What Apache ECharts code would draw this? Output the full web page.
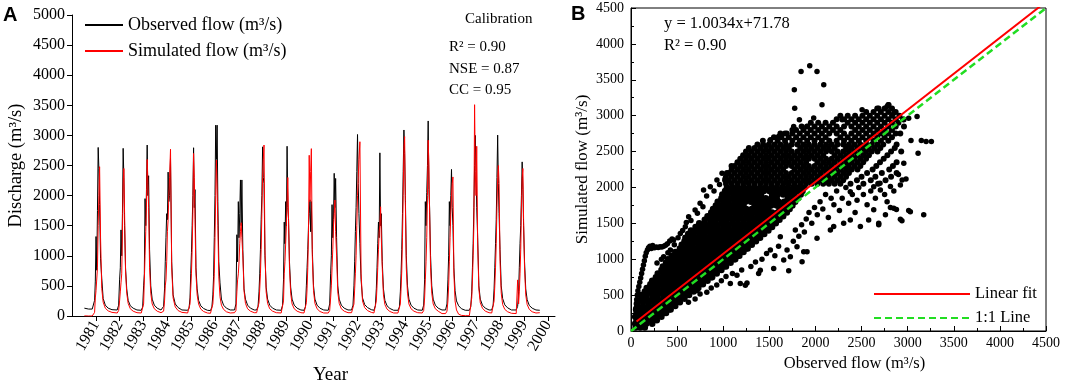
<!DOCTYPE html>
<html>
<head>
<meta charset="utf-8">
<script src="https://cdn.jsdelivr.net/npm/echarts@6/dist/echarts.min.js"></script>
<style>
  html, body { margin: 0; padding: 0; background: #fff; }
  #chart { width: 1065px; height: 386px; }
</style>
</head>
<body>
<div id="chart"></div>
<script>
// ---- panel A: daily discharge, read per flood season ----
var yearTicks = [1981, 1982, 1983, 1984, 1985, 1986, 1987, 1988, 1989, 1990,
                 1991, 1992, 1993, 1994, 1995, 1996, 1997, 1998, 1999, 2000];
// time of each season's observed peak (fractional year)
var peakTimes = [1981.10, 1982.15, 1983.16, 1984.04, 1985.11, 1986.07, 1987.08, 1988.01, 1989.04, 1990.00,
                 1991.02, 1992.00, 1992.94, 1993.95, 1994.97, 1995.95, 1996.95, 1997.89, 1998.92];
// sample positions relative to the peak (years)
var yearOffsets = [-0.25, -0.19, -0.15, -0.12, -0.09, -0.06, -0.03, 0, 0.03, 0.06, 0.1, 0.15, 0.21, 0.3, 0.42, 0.58];

var leadTimes = [1980.52, 1980.7];
var obsLead = [130, 115];
var simLead = [2, 0];
var tailTimes = [1999.66];
var obsTail = [95];
var simTail = [55];

var obsFlow = [
  [115, 120, 260, 580, 1320, 760, 1750, 2800, 2450, 1850, 950, 630, 290, 180, 130, 105],
  [100, 180, 600, 800, 1430, 1000, 1700, 2785, 2300, 1500, 800, 450, 260, 170, 130, 100],
  [95, 150, 500, 700, 1950, 1500, 2100, 2840, 2000, 2330, 1100, 500, 280, 180, 130, 100],
  [95, 160, 450, 900, 1300, 1700, 1600, 2390, 1900, 2000, 2620, 900, 350, 200, 140, 100],
  [95, 130, 300, 700, 1050, 1500, 2000, 2795, 1800, 2100, 800, 450, 260, 170, 125, 95],
  [90, 150, 350, 650, 1300, 2000, 3170, 2600, 3170, 1900, 900, 550, 280, 180, 130, 100],
  [100, 200, 1350, 900, 1900, 1300, 1700, 2260, 1500, 2260, 1100, 450, 280, 180, 130, 100],
  [100, 160, 400, 700, 1100, 1600, 2000, 2810, 2300, 2200, 1000, 480, 280, 180, 130, 100],
  [95, 180, 600, 1560, 1200, 1900, 1500, 2820, 1800, 1620, 900, 480, 280, 180, 130, 100],
  [95, 150, 500, 800, 1100, 1500, 1700, 1930, 1400, 1900, 1100, 500, 280, 180, 130, 100],
  [95, 200, 700, 1000, 1850, 1300, 1600, 2370, 1800, 2285, 1300, 500, 280, 180, 130, 100],
  [100, 180, 500, 900, 1400, 1800, 2400, 3015, 2200, 1700, 1200, 600, 300, 190, 140, 105],
  [95, 170, 450, 800, 1200, 1560, 1300, 2710, 1500, 1700, 900, 450, 260, 170, 125, 95],
  [95, 150, 400, 700, 1100, 1700, 2400, 3090, 2700, 2000, 1000, 500, 280, 180, 130, 100],
  [95, 180, 600, 1900, 1500, 2050, 2500, 3240, 2100, 1800, 1000, 500, 280, 180, 130, 100],
  [100, 200, 600, 1000, 1900, 1500, 2000, 2435, 1800, 1500, 800, 420, 250, 170, 120, 95],
  [95, 150, 400, 800, 1200, 1800, 2500, 3000, 2400, 1800, 1300, 500, 280, 180, 130, 100],
  [100, 180, 450, 800, 1200, 1600, 2300, 3005, 2200, 1700, 1100, 500, 290, 185, 135, 100],
  [100, 160, 400, 800, 1200, 1500, 2000, 2560, 2100, 1500, 900, 450, 270, 175, 130, 100]
];
var simFlow = [
  [0, 0, 60, 300, 420, 450, 800, 1500, 2000, 2480, 1300, 460, 230, 130, 85, 60],
  [50, 90, 250, 400, 550, 700, 1400, 2200, 2450, 1700, 750, 380, 210, 120, 80, 55],
  [50, 80, 200, 600, 1000, 1400, 1900, 2600, 2200, 1800, 800, 380, 200, 120, 80, 55],
  [50, 80, 250, 500, 600, 900, 1400, 1600, 2000, 2300, 2770, 800, 300, 150, 90, 60],
  [50, 70, 200, 450, 700, 1100, 1700, 2700, 2300, 1600, 700, 350, 200, 115, 75, 50],
  [45, 70, 200, 400, 700, 1300, 2000, 2590, 2100, 1500, 650, 320, 180, 110, 70, 50],
  [55, 90, 400, 600, 700, 900, 1200, 1400, 1550, 1300, 1000, 420, 210, 120, 80, 55],
  [55, 80, 220, 450, 700, 1100, 1700, 2300, 2600, 2840, 1100, 400, 210, 120, 80, 55],
  [50, 80, 250, 700, 900, 1200, 1500, 1900, 2300, 1600, 800, 380, 200, 120, 80, 55],
  [50, 80, 220, 450, 800, 1400, 2670, 1900, 2400, 2780, 1000, 420, 210, 120, 75, 50],
  [50, 90, 300, 500, 800, 1100, 1500, 1700, 1925, 1400, 1000, 400, 210, 120, 80, 55],
  [55, 80, 200, 450, 700, 1000, 1500, 2000, 2300, 2600, 2895, 700, 250, 140, 90, 60],
  [50, 80, 250, 500, 800, 1100, 1400, 1500, 1815, 1300, 800, 350, 190, 115, 75, 50],
  [50, 75, 200, 450, 750, 1300, 2000, 2800, 2980, 1900, 800, 380, 200, 120, 80, 55],
  [50, 90, 300, 600, 900, 1300, 2000, 2920, 2510, 1700, 800, 380, 200, 120, 80, 40],
  [40, 80, 250, 500, 900, 1300, 1700, 2000, 2200, 2310, 700, 250, 100, 30, 10, 5],
  [5, 20, 300, 600, 1000, 1500, 3510, 2400, 2000, 2820, 1200, 450, 220, 130, 80, 55],
  [50, 80, 250, 500, 800, 1200, 1800, 2300, 2500, 2200, 900, 380, 190, 110, 70, 45],
  [40, 600, 200, 400, 700, 1100, 1800, 2300, 2450, 1600, 800, 350, 190, 110, 70, 50]
];

// ---- panel B: observed vs simulated scatter ----
// dense part of the cloud, one row per simulated level: [sim, [observed...]]
var cloudRows = [
  [50, [50, 100, 150]],
  [100, [45, 105, 165, 230]],
  [150, [60, 120, 180, 240, 280]],
  [200, [45, 105, 165, 225, 285, 330]],
  [250, [60, 120, 180, 240, 300, 360, 380]],
  [300, [55, 115, 175, 235, 295, 355, 415, 430]],
  [350, [70, 130, 190, 250, 310, 370, 430, 480]],
  [400, [70, 130, 190, 250, 310, 370, 430, 490, 530]],
  [450, [110, 170, 230, 290, 350, 410, 470, 530, 580]],
  [500, [110, 170, 230, 290, 350, 410, 470, 530, 590, 630]],
  [550, [150, 210, 270, 330, 390, 450, 510, 570, 630, 680]],
  [600, [170, 230, 290, 350, 410, 470, 530, 590, 650, 710, 730]],
  [650, [210, 270, 330, 390, 450, 510, 570, 630, 690, 750, 780]],
  [700, [230, 290, 350, 410, 470, 530, 590, 650, 710, 770, 830]],
  [750, [270, 330, 390, 450, 510, 570, 630, 690, 750, 810, 870, 880]],
  [800, [290, 350, 410, 470, 530, 590, 650, 710, 770, 830, 890, 930]],
  [850, [330, 390, 450, 510, 570, 630, 690, 750, 810, 870, 930, 980]],
  [900, [345, 405, 465, 525, 585, 645, 705, 765, 825, 885, 945, 1005, 1030]],
  [950, [380, 440, 500, 560, 620, 680, 740, 800, 860, 920, 980, 1040, 1080]],
  [1000, [400, 460, 520, 580, 640, 700, 760, 820, 880, 940, 1000, 1060, 1120, 1130]],
  [1050, [440, 500, 560, 620, 680, 740, 800, 860, 920, 980, 1040, 1100, 1160, 1175]],
  [1100, [480, 540, 600, 660, 720, 780, 840, 900, 960, 1020, 1080, 1140, 1200, 1220]],
  [1150, [530, 590, 650, 710, 770, 830, 890, 950, 1010, 1070, 1130, 1190, 1250, 1265]],
  [1200, [550, 610, 670, 730, 790, 850, 910, 970, 1030, 1090, 1150, 1210, 1270, 1310]],
  [1250, [580, 640, 700, 760, 820, 880, 940, 1000, 1060, 1120, 1180, 1240, 1300, 1355]],
  [1300, [590, 650, 710, 770, 830, 890, 950, 1010, 1070, 1130, 1190, 1250, 1310, 1370, 1400]],
  [1350, [620, 680, 740, 800, 860, 920, 980, 1040, 1100, 1160, 1220, 1280, 1340, 1400, 1445]],
  [1400, [650, 710, 770, 830, 890, 950, 1010, 1070, 1130, 1190, 1250, 1310, 1370, 1430, 1490]],
  [1450, [700, 760, 820, 880, 940, 1000, 1060, 1120, 1180, 1240, 1300, 1360, 1420, 1480, 1530]],
  [1500, [740, 800, 860, 920, 980, 1040, 1100, 1160, 1220, 1280, 1340, 1400, 1460, 1520, 1570]],
  [1550, [800, 860, 920, 980, 1040, 1100, 1160, 1220, 1280, 1340, 1400, 1460, 1520, 1580, 1610]],
  [1600, [830, 890, 950, 1010, 1070, 1130, 1190, 1250, 1310, 1370, 1430, 1490, 1550, 1610, 1650]],
  [1650, [870, 930, 990, 1050, 1110, 1170, 1230, 1290, 1350, 1410, 1470, 1530, 1590, 1650, 1690]],
  [1700, [890, 950, 1010, 1070, 1130, 1190, 1250, 1310, 1370, 1430, 1490, 1610, 1670, 1720]],
  [1750, [920, 980, 1040, 1100, 1160, 1220, 1340, 1400, 1460, 1520, 1580, 1640, 1700, 1750]],
  [1800, [940, 1000, 1060, 1120, 1180, 1240, 1300, 1360, 1420, 1480, 1540, 1600, 1660, 1720, 1780]],
  [1850, [980, 1040, 1100, 1160, 1220, 1280, 1340, 1400, 1460, 1520, 1580, 1700, 1760, 1810]],
  [1900, [990, 1050, 1110, 1170, 1230, 1290, 1350, 1410, 1530, 1590, 1650, 1710, 1770, 1840]],
  [1950, [1020, 1080, 1140, 1200, 1260, 1320, 1380, 1440, 1500, 1560, 1620, 1680, 1740, 1800, 1860]],
  [2000, [1040, 1100, 1160, 1220, 1280, 1340, 1400, 1460, 1520, 1580, 1640, 1700, 1760, 1820, 1880]],
  [2050, [1030, 1092, 1154, 1216, 1278, 1340, 1402, 1464, 1526, 1588, 1650, 1712, 1774, 1836, 1898, 1960, 2022, 2084, 2146, 2208, 2270, 2380, 2520, 2680]],
  [2100, [1020, 1061, 1123, 1185, 1247, 1309, 1371, 1433, 1495, 1557, 1619, 1681, 1743, 1805, 1867, 1929, 1991, 2053, 2115, 2177, 2239, 2301, 2450, 2600, 2760]],
  [2150, [1030, 1092, 1154, 1216, 1278, 1340, 1402, 1464, 1526, 1588, 1650, 1712, 1774, 1836, 1898, 1960, 2022, 2084, 2146, 2208, 2270, 2332, 2500, 2650, 2820]],
  [2200, [1040, 1061, 1123, 1185, 1247, 1309, 1371, 1433, 1495, 1557, 1619, 1681, 1743, 1805, 1867, 1929, 1991, 2053, 2115, 2177, 2239, 2301, 2363, 2560, 2720, 2880]],
  [2250, [1092, 1154, 1216, 1278, 1340, 1402, 1464, 1526, 1588, 1650, 1774, 1836, 1898, 1960, 2022, 2084, 2146, 2208, 2270, 2332, 2394, 2456, 2620, 2800]],
  [2300, [1090, 1123, 1185, 1247, 1309, 1371, 1433, 1495, 1557, 1619, 1681, 1743, 1805, 1867, 1929, 1991, 2053, 2115, 2177, 2239, 2301, 2363, 2425, 2487, 2660, 2840]],
  [2350, [1154, 1216, 1278, 1340, 1402, 1464, 1526, 1588, 1650, 1712, 1774, 1836, 1898, 2022, 2084, 2146, 2208, 2270, 2332, 2394, 2456, 2518, 2700, 2880]],
  [2400, [1185, 1247, 1309, 1371, 1433, 1495, 1557, 1619, 1681, 1743, 1805, 1867, 1929, 1991, 2053, 2115, 2177, 2239, 2301, 2363, 2425, 2487, 2549, 2740]],
  [2450, [1216, 1278, 1340, 1402, 1464, 1526, 1588, 1650, 1712, 1774, 1836, 1898, 1960, 2022, 2084, 2208, 2270, 2332, 2394, 2456, 2518, 2580, 2780]],
  [2500, [1247, 1309, 1371, 1433, 1495, 1557, 1619, 1681, 1743, 1805, 1867, 1929, 1991, 2053, 2115, 2177, 2239, 2301, 2363, 2425, 2487, 2549, 2611, 2673, 2820, 2930]],
  [2550, [1278, 1340, 1402, 1464, 1526, 1588, 1650, 1712, 1836, 1898, 1960, 2022, 2084, 2146, 2208, 2332, 2394, 2456, 2518, 2580, 2642, 2704, 2860]],
  [2600, [1371, 1433, 1495, 1557, 1619, 1681, 1743, 1805, 1867, 1929, 1991, 2053, 2115, 2177, 2239, 2301, 2363, 2425, 2487, 2549, 2611, 2673, 2735, 2880]],
  [2650, [1430, 1510, 1590, 1670, 1750, 1830, 1910, 1990, 2070, 2150, 2230, 2310, 2390, 2470, 2550, 2630, 2710, 2790]],
  [2700, [1550, 1630, 1710, 1790, 1870, 1950, 2030, 2110, 2270, 2350, 2430, 2510, 2590, 2670, 2750, 2830]],
  [2750, [1620, 1670, 1750, 1830, 1910, 1990, 2070, 2150, 2230, 2310, 2390, 2470, 2550, 2630, 2710, 2790, 2870, 2920]],
  [2800, [1750, 1790, 1870, 1950, 2030, 2110, 2190, 2270, 2430, 2510, 2590, 2670, 2750, 2830]],
  [2850, [1850, 1910, 1990, 2070, 2150, 2230, 2310, 2390, 2470, 2550, 2630, 2710, 2790, 2870, 2960]],
  [2900, [1950, 2030, 2110, 2190, 2350, 2430, 2510, 2590, 2670, 2750, 2830, 2900]],
  [2950, [2230, 2310, 2390, 2470, 2550, 2630, 2710, 2790, 2870, 2950]],
  [3000, [2270, 2350, 2430, 2510, 2590, 2670, 2750, 2830, 2910]],
  [3050, [2550, 2630, 2710, 2790, 2870]],
  [3100, [2670, 2750, 2830]],
  [3150, [2790]]
];
// the low-flow arm going up on the left
var armPts = [[55, 320], [58, 380], [62, 440], [68, 500], [75, 560], [85, 620], [95, 680], [105, 740],
  [115, 800], [125, 860], [135, 920], [145, 980], [155, 1040], [165, 1090], [178, 1130], [190, 1160],
  [205, 1180], [220, 1150], [235, 1190], [255, 1160], [275, 1170], [295, 1165], [315, 1175], [335, 1170],
  [355, 1180], [375, 1195], [395, 1215], [420, 1255], [445, 1280]];
// scattered points around the dense cloud
var edgePts = [[282, 947], [330, 1000], [354, 1034], [400, 1090], [427, 1128], [470, 1200], [462, 1267],
  [510, 1300], [535, 1360], [560, 1400], [589, 1453], [600, 1510], [625, 1593], [650, 1540], [695, 1686],
  [720, 1640], [749, 1779], [780, 1730], [787, 1965], [820, 1880], [860, 2011], [900, 1950], [932, 2105],
  [960, 2040], [987, 2198], [1022, 2128],
  [623, 400], [695, 447], [749, 517], [822, 540], [716, 563], [870, 600], [930, 640], [980, 700], [1077, 662],
  [1030, 760], [1100, 800], [1149, 778], [1200, 850], [1240, 638], [1258, 670], [1300, 900], [1384, 800],
  [1350, 960], [1420, 1000], [1470, 1080], [1511, 1128], [1560, 1050], [1600, 1180], [1619, 1314],
  [1656, 988], [1692, 1128], [1728, 1035], [1760, 1250], [1782, 1407], [1800, 1174], [1820, 1320],
  [1850, 1480], [1880, 1380], [1900, 1560], [1930, 1650], [1960, 1500], [1990, 1720], [2020, 1620],
  [2050, 1800], [2080, 1700], [2110, 1900], [2140, 1580], [2170, 1850], [2200, 1760], [2230, 1950],
  [2260, 1680], [2290, 1850], [2330, 2000], [2360, 1780], [2400, 1900], [2430, 1650], [2470, 2000],
  [2520, 1900], [2560, 1760], [2600, 1950], [2650, 1850], [2700, 2060], [2750, 1900], [2850, 1950], [2900, 2180],
  [1185, 662], [1402, 848], [1547, 872], [1710, 839], [1855, 965], [1873, 1105], [1909, 1105], [2017, 1291],
  [2162, 1408], [2198, 1455], [2306, 1501], [2378, 1548], [2487, 1455], [2577, 1548], [2632, 1688],
  [2686, 1501], [2686, 1481], [2759, 1620], [2777, 1800], [2451, 1823], [2378, 1940], [2632, 2011], [2704, 1964],
  [2813, 1720], [2849, 1710], [2878, 1691], [2921, 1557], [2938, 1537], [3011, 1678], [3029, 1663], [3174, 1618],
  [2813, 2012], [2921, 2035], [2940, 2105], [2982, 2118], [2958, 2337], [3113, 2478],
  [3036, 2655], [3148, 2655], [3200, 2640], [3257, 2640]];
var topPts = [[1844, 3617], [1938, 3697], [2017, 3617], [2090, 3432], [1771, 3362], [2071, 3152],
  [1775, 3105], [1981, 2966], [1826, 2943], [1690, 2756], [1764, 2849], [1909, 2849], [2289, 2942],
  [2506, 3081], [2686, 3104], [2777, 3127], [2795, 3151], [2849, 3034], [2958, 2942], [3011, 2965],
  [3102, 2988], [1600, 2710], [1511, 2663]];

var fitSlope = 1.0034;
var fitIntercept = 71.78;
var fitRange = [60, 4500];
var oneToOne = [0, 4500];

// ---- build series data ----
function buildFlow(lead, perYear, tail) {
  var pts = [];
  leadTimes.forEach(function (t, i) { pts.push([t, lead[i]]); });
  peakTimes.forEach(function (p, y) {
    yearOffsets.forEach(function (o, i) { pts.push([+(p + o).toFixed(3), perYear[y][i]]); });
  });
  tailTimes.forEach(function (t, i) { pts.push([t, tail[i]]); });
  return pts;
}
var obsData = buildFlow(obsLead, obsFlow, obsTail);
var simData = buildFlow(simLead, simFlow, simTail);

// rows up to 2000 form the solid core, higher rows are a little more speckled
var coreData = [];
var upperData = [];
cloudRows.forEach(function (row) {
  var target = row[0] <= 2000 ? coreData : upperData;
  row[1].forEach(function (o) { target.push([o, row[0]]); });
});
var looseData = [].concat(armPts, edgePts, topPts);

var fitData = fitRange.map(function (x) { return [x, fitSlope * x + fitIntercept]; });
var lineData = oneToOne.map(function (x) { return [x, x]; });

var serif = '"Liberation Serif", "Times New Roman", serif';
var plain = function (v) { return String(v); };

var myChart = echarts.init(document.getElementById('chart'), null, { renderer: 'canvas' });

var option = {
  animation: false,
  textStyle: { fontFamily: serif, color: '#000' },
  grid: [
    { left: 72, top: 15, width: 483, height: 301, outerBoundsMode: 'none', containLabel: false },
    { left: 631, top: 8, width: 415, height: 323, outerBoundsMode: 'none', containLabel: false,
      show: true, borderColor: '#000', borderWidth: 1 }
  ],
  legend: [
    {
      data: ['Observed flow (m³/s)', 'Simulated flow (m³/s)'],
      orient: 'vertical', left: 79, top: 10, itemWidth: 38, itemHeight: 20, itemGap: 6,
      itemStyle: { opacity: 0 },
      textStyle: { fontFamily: serif, fontSize: 18, color: '#000', lineHeight: 20 },
      selectedMode: false
    },
    {
      data: ['Linear fit', '1:1 Line'],
      orient: 'vertical', left: 868, top: 279, itemWidth: 96, itemHeight: 20, itemGap: 4,
      itemStyle: { opacity: 0 },
      textStyle: { fontFamily: serif, fontSize: 16.5, color: '#000', lineHeight: 20 },
      selectedMode: false
    }
  ],
  xAxis: [
    {
      type: 'value', gridIndex: 0, min: 1980, max: 2000.3, interval: 1,
      name: 'Year', nameLocation: 'middle', nameGap: 50,
      nameTextStyle: { fontFamily: serif, fontSize: 19, color: '#000', padding: [0, 0, 0, 34] },
      axisLine: { lineStyle: { color: '#000', width: 1 } },
      axisTick: { customValues: yearTicks, length: 5, lineStyle: { color: '#000' } },
      axisLabel: {
        customValues: yearTicks, rotate: 60, margin: 6,
        fontFamily: serif, fontSize: 16, color: '#000',
        formatter: function (v) { return (v > 1980 && v % 1 === 0) ? String(v) : ''; }
      },
      splitLine: { show: false }
    },
    {
      type: 'value', gridIndex: 1, min: 0, max: 4500, interval: 500,
      name: 'Observed flow (m³/s)', nameLocation: 'middle', nameGap: 24,
      nameTextStyle: { fontFamily: serif, fontSize: 16.5, color: '#000', padding: [0, 0, 0, 32] },
      axisLine: { lineStyle: { color: '#000', width: 1 } },
      axisTick: { inside: true, length: 5, lineStyle: { color: '#000' } },
      minorTick: { show: true, splitNumber: 2, length: 3, lineStyle: { color: '#000' } },
      axisLabel: { margin: 5, fontFamily: serif, fontSize: 14, color: '#000', formatter: plain },
      splitLine: { show: false }
    }
  ],
  yAxis: [
    {
      type: 'value', gridIndex: 0, min: 0, max: 5000, interval: 500,
      name: 'Discharge (m³/s)', nameLocation: 'middle', nameGap: 46,
      nameTextStyle: { fontFamily: serif, fontSize: 18.5, color: '#000' },
      axisLine: { show: true, lineStyle: { color: '#000', width: 1 } },
      axisTick: { show: true, length: 5, lineStyle: { color: '#000' } },
      axisLabel: { margin: 7, fontFamily: serif, fontSize: 16, color: '#000', formatter: plain },
      splitLine: { show: false }
    },
    {
      type: 'value', gridIndex: 1, min: 0, max: 4500, interval: 500,
      name: 'Simulated flow (m³/s)', nameLocation: 'middle', nameGap: 40,
      nameTextStyle: { fontFamily: serif, fontSize: 17, color: '#000' },
      axisLine: { show: true, lineStyle: { color: '#000', width: 1 } },
      axisTick: { show: true, inside: true, length: 5, lineStyle: { color: '#000' } },
      minorTick: { show: true, splitNumber: 2, length: 3, lineStyle: { color: '#000' } },
      axisLabel: { margin: 7, fontFamily: serif, fontSize: 14, color: '#000', formatter: plain },
      splitLine: { show: false }
    }
  ],
  series: [
    {
      name: 'Observed flow (m³/s)', type: 'line', xAxisIndex: 0, yAxisIndex: 0,
      data: obsData, symbol: 'none',
      lineStyle: { color: '#000', width: 1 }, itemStyle: { color: '#000' }
    },
    {
      name: 'Simulated flow (m³/s)', type: 'line', xAxisIndex: 0, yAxisIndex: 0,
      data: simData, symbol: 'none',
      lineStyle: { color: '#ff0000', width: 1 }, itemStyle: { color: '#ff0000' }
    },
    {
      name: 'core', type: 'scatter', xAxisIndex: 1, yAxisIndex: 1,
      data: coreData, symbol: 'circle', symbolSize: 6.5, silent: true,
      itemStyle: { color: '#000', opacity: 1 }
    },
    {
      name: 'upper', type: 'scatter', xAxisIndex: 1, yAxisIndex: 1,
      data: upperData, symbol: 'circle', symbolSize: 6, silent: true,
      itemStyle: { color: '#000', opacity: 1 }
    },
    {
      name: 'points', type: 'scatter', xAxisIndex: 1, yAxisIndex: 1,
      data: looseData, symbol: 'circle', symbolSize: 5.5, silent: true,
      itemStyle: { color: '#000', opacity: 1 }
    },
    {
      name: 'Linear fit', type: 'line', xAxisIndex: 1, yAxisIndex: 1,
      data: fitData, symbol: 'none', clip: true,
      lineStyle: { color: '#ff0000', width: 2 }, itemStyle: { color: '#ff0000' }
    },
    {
      name: '1:1 Line', type: 'line', xAxisIndex: 1, yAxisIndex: 1,
      data: lineData, symbol: 'none', clip: true,
      lineStyle: { color: '#22dd22', width: 2.5, type: [7, 4] }, itemStyle: { color: '#22dd22' }
    }
  ],
  graphic: [
    { type: 'text', left: 3, top: 5, style: { text: 'A', font: 'bold 20px "Liberation Sans", Arial, sans-serif', fill: '#000' } },
    { type: 'text', left: 571, top: 4, style: { text: 'B', font: 'bold 20px "Liberation Sans", Arial, sans-serif', fill: '#000' } },
    { type: 'text', left: 465, top: 12, style: { text: 'Calibration', font: '15px ' + serif, fill: '#000' } },
    { type: 'text', left: 449, top: 40, style: { text: 'R² = 0.90', font: '15px ' + serif, fill: '#000' } },
    { type: 'text', left: 449, top: 62, style: { text: 'NSE = 0.87', font: '15px ' + serif, fill: '#000' } },
    { type: 'text', left: 449, top: 83, style: { text: 'CC = 0.95', font: '15px ' + serif, fill: '#000' } },
    { type: 'text', left: 664, top: 15, style: { text: 'y = 1.0034x+71.78', font: '16.5px ' + serif, fill: '#000' } },
    { type: 'text', left: 664, top: 37, style: { text: 'R² = 0.90', font: '16.5px ' + serif, fill: '#000' } }
  ]
};

myChart.setOption(option);

window.addEventListener('resize', function () {
  myChart.resize();
});
</script>
</body>
</html>
